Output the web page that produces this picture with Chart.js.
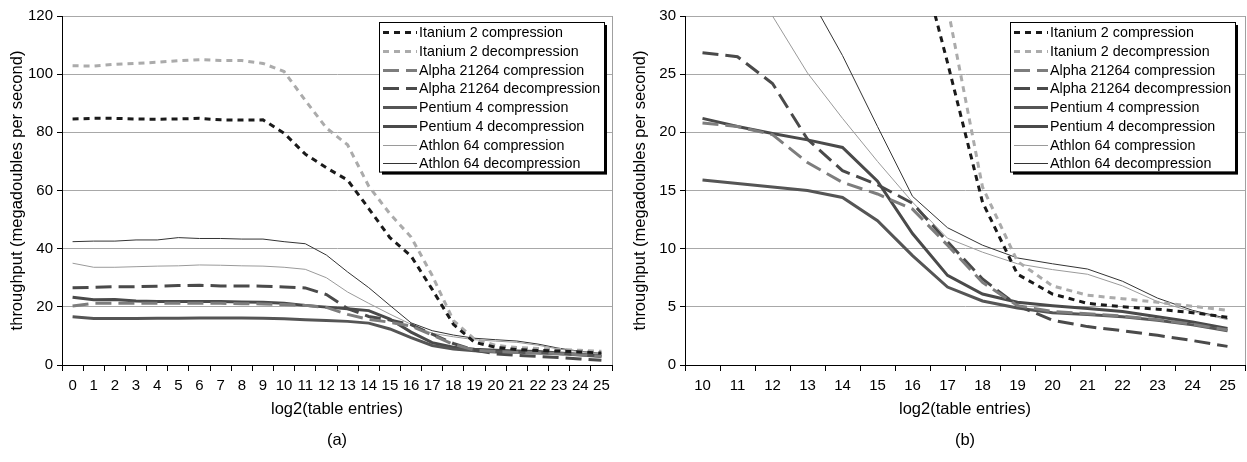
<!DOCTYPE html>
<html lang="en">
<head>
<meta charset="UTF-8">
<title>Throughput vs table size</title>
<script src="https://cdn.jsdelivr.net/npm/chart.js"></script>
<style>
  body { margin: 0; background: #fff; }
  #wrap { position: relative; width: 1247px; height: 462px; }
  canvas { position: absolute; top: 0; }
</style>
</head>
<body>
<div id="wrap">
  <canvas id="chartA" width="623" height="462" style="left:0"></canvas>
  <canvas id="chartB" width="624" height="462" style="left:623px"></canvas>
</div>
<script>
// log2(table entries), 0..25
const entries = ['0','1','2','3','4','5','6','7','8','9','10','11','12','13','14','15','16','17','18','19','20','21','22','23','24','25'];

// throughput in megadoubles per second
const itaniumComp    = [84.6, 84.8, 84.8, 84.6, 84.5, 84.6, 84.8, 84.3, 84.2, 84.3, 79.7, 72.5, 67.8, 63.6, 53.8, 43.8, 37.5, 26.0, 14.0, 7.8, 6.1, 5.3, 5.0, 4.8, 4.5, 4.1];
const itaniumDecomp  = [102.9, 102.8, 103.4, 103.7, 104.1, 104.6, 105.0, 104.7, 104.7, 103.7, 100.9, 91.0, 81.5, 75.7, 61.5, 52.0, 44.0, 30.8, 15.3, 8.9, 6.8, 6.0, 5.7, 5.4, 5.05, 4.7];
const alphaComp      = [20.3, 21.2, 21.2, 21.2, 21.2, 21.2, 21.2, 21.2, 21.1, 21.0, 20.8, 20.5, 19.8, 17.4, 15.7, 14.7, 13.4, 10.3, 7.1, 5.1, 4.6, 4.4, 4.2, 3.9, 3.5, 3.0];
const alphaDecomp    = [26.6, 26.7, 26.9, 26.9, 27.1, 27.3, 27.4, 27.2, 27.2, 27.1, 26.85, 26.5, 24.2, 19.4, 16.7, 15.5, 13.9, 10.6, 7.4, 5.1, 3.85, 3.3, 2.95, 2.55, 2.1, 1.6];
const pentiumComp    = [16.6, 16.0, 16.0, 16.0, 16.1, 16.1, 16.2, 16.2, 16.2, 16.1, 15.9, 15.6, 15.3, 15.0, 14.4, 12.4, 9.4, 6.7, 5.5, 4.9, 4.5, 4.35, 4.15, 3.85, 3.45, 2.95];
const pentiumDecomp  = [23.3, 22.4, 22.5, 22.0, 21.8, 21.8, 21.8, 21.8, 21.7, 21.6, 21.2, 20.5, 19.9, 19.35, 18.7, 15.8, 11.3, 7.7, 6.1, 5.4, 5.1, 4.85, 4.6, 4.15, 3.7, 3.15];
const athlonComp     = [35.0, 33.6, 33.6, 33.8, 34.0, 34.1, 34.4, 34.3, 34.1, 34.0, 33.6, 32.9, 30.0, 25.1, 21.2, 17.5, 14.0, 10.9, 9.7, 8.7, 8.2, 7.8, 6.8, 5.45, 4.6, 3.9];
const athlonDecomp   = [42.4, 42.6, 42.6, 43.0, 43.0, 43.8, 43.5, 43.5, 43.3, 43.3, 42.4, 41.7, 37.8, 32.0, 26.6, 20.5, 14.5, 11.8, 10.3, 9.2, 8.7, 8.25, 7.2, 5.75, 4.7, 4.0];

const seriesNames = ['Itanium 2 compression', 'Itanium 2 decompression', 'Alpha 21264 compression', 'Alpha 21264 decompression',
                     'Pentium 4 compression', 'Pentium 4 decompression', 'Athlon 64 compression', 'Athlon 64 decompression'];

const FONT = '"Liberation Sans", Arial, sans-serif';

// line looks per series
const looks = [
  { color: '#1a1a1a', width: 3, dash: [6, 5] },
  { color: '#ababab', width: 3, dash: [6, 5] },
  { color: '#7d7d7d', width: 3, dash: [16, 7] },
  { color: '#4a4a4a', width: 3, dash: [16, 7] },
  { color: '#555555', width: 3, dash: [] },
  { color: '#4a4a4a', width: 3, dash: [] },
  { color: '#9a9a9a', width: 1, dash: [] },
  { color: '#333333', width: 1, dash: [] }
];

// plot frame (grey top/right edge, axes draw black over it)
const frame = {
  id: 'frame',
  beforeDraw(chart) {
    const a = chart.chartArea, ctx = chart.ctx;
    ctx.save();
    ctx.strokeStyle = '#a0a0a0';
    ctx.lineWidth = 1;
    ctx.strokeRect(Math.round(a.left) + 0.5, Math.round(a.top) + 0.5, Math.round(a.right - a.left), Math.round(a.bottom - a.top));
    ctx.restore();
  }
};

// boxed legend with shadow, drawn inside the plot
const boxLegend = {
  id: 'boxLegend',
  afterDatasetsDraw(chart, args, opts) {
    const ctx = chart.ctx, a = chart.chartArea;
    const w = 225, rowH = 18.7;
    const h = chart.data.datasets.length * rowH;
    const x = Math.round(a.right - opts.right - w), y = Math.round(a.top + 6);
    ctx.save();
    ctx.fillStyle = '#000';
    ctx.fillRect(x + 3, y + 3, w, h);
    ctx.fillStyle = '#fff';
    ctx.fillRect(x, y, w, h);
    ctx.strokeStyle = '#000';
    ctx.lineWidth = 1;
    ctx.strokeRect(x + 0.5, y + 0.5, w, h);
    ctx.font = '14.3px ' + FONT;
    ctx.textBaseline = 'middle';
    chart.data.datasets.forEach((ds, i) => {
      const cy = Math.round(y + 10.3 + i * rowH);
      ctx.strokeStyle = ds.borderColor;
      ctx.lineWidth = ds.borderWidth;
      ctx.setLineDash(ds.borderDash);
      ctx.beginPath();
      ctx.moveTo(x + 4, cy + 0.5);
      ctx.lineTo(x + 38, cy + 0.5);
      ctx.stroke();
      ctx.setLineDash([]);
      ctx.fillStyle = '#000';
      ctx.fillText(ds.label, x + 40, cy + 1);
    });
    ctx.restore();
  }
};

function makeChart(id, from, yMax, yStep, tag, padRight, legendRight) {
  const all = [itaniumComp, itaniumDecomp, alphaComp, alphaDecomp, pentiumComp, pentiumDecomp, athlonComp, athlonDecomp];
  const datasets = all.map((vals, i) => ({
    label: seriesNames[i],
    data: vals.slice(from),
    borderColor: looks[i].color,
    borderWidth: looks[i].width,
    borderDash: looks[i].dash,
    pointRadius: 0,
    tension: 0,
    fill: false
  }));
  const tickFont = { family: FONT, size: 15 };
  const titleFont = { family: FONT, size: 16.5 };
  return new Chart(document.getElementById(id).getContext('2d'), {
    type: 'line',
    data: { labels: entries.slice(from), datasets: datasets },
    options: {
      responsive: false,
      animation: false,
      layout: { padding: { left: 0, right: padRight, top: 16, bottom: 0 } },
      plugins: {
        legend: { display: false },
        tooltip: { enabled: false },
        boxLegend: { right: legendRight }
      },
      scales: {
        x: {
          offset: true,
          grid: { offset: true, drawOnChartArea: false, drawTicks: true, tickLength: 6, tickColor: '#000' },
          border: { color: '#000' },
          ticks: { color: '#000', font: tickFont, padding: 6, maxRotation: 0, autoSkip: false },
          // axis title plus the panel tag "(a)"/"(b)" on a second line, centred under the plot
          title: { display: true, text: ['log2(table entries)', tag], color: '#000',
                   font: { family: FONT, size: 16.5, lineHeight: 1.88 }, padding: { top: 0, bottom: 6.5 } },
          afterFit: s => { s.height = 97; }
        },
        y: {
          min: 0, max: yMax,
          grid: { color: '#a8a8a8', tickLength: 5, tickColor: '#000' },
          border: { color: '#000' },
          ticks: { stepSize: yStep, color: '#000', font: tickFont, padding: 4 },
          title: { display: true, text: 'throughput (megadoubles per second)', color: '#000', font: titleFont, padding: { top: 8, bottom: 0 } },
          afterFit: s => { s.width = 62; }
        }
      }
    },
    plugins: [frame, boxLegend]
  });
}

makeChart('chartA', 0, 120, 20, '(a)', 11, 8);
makeChart('chartB', 10, 30, 5, '(b)', 2, 10);
</script>
</body>
</html>
